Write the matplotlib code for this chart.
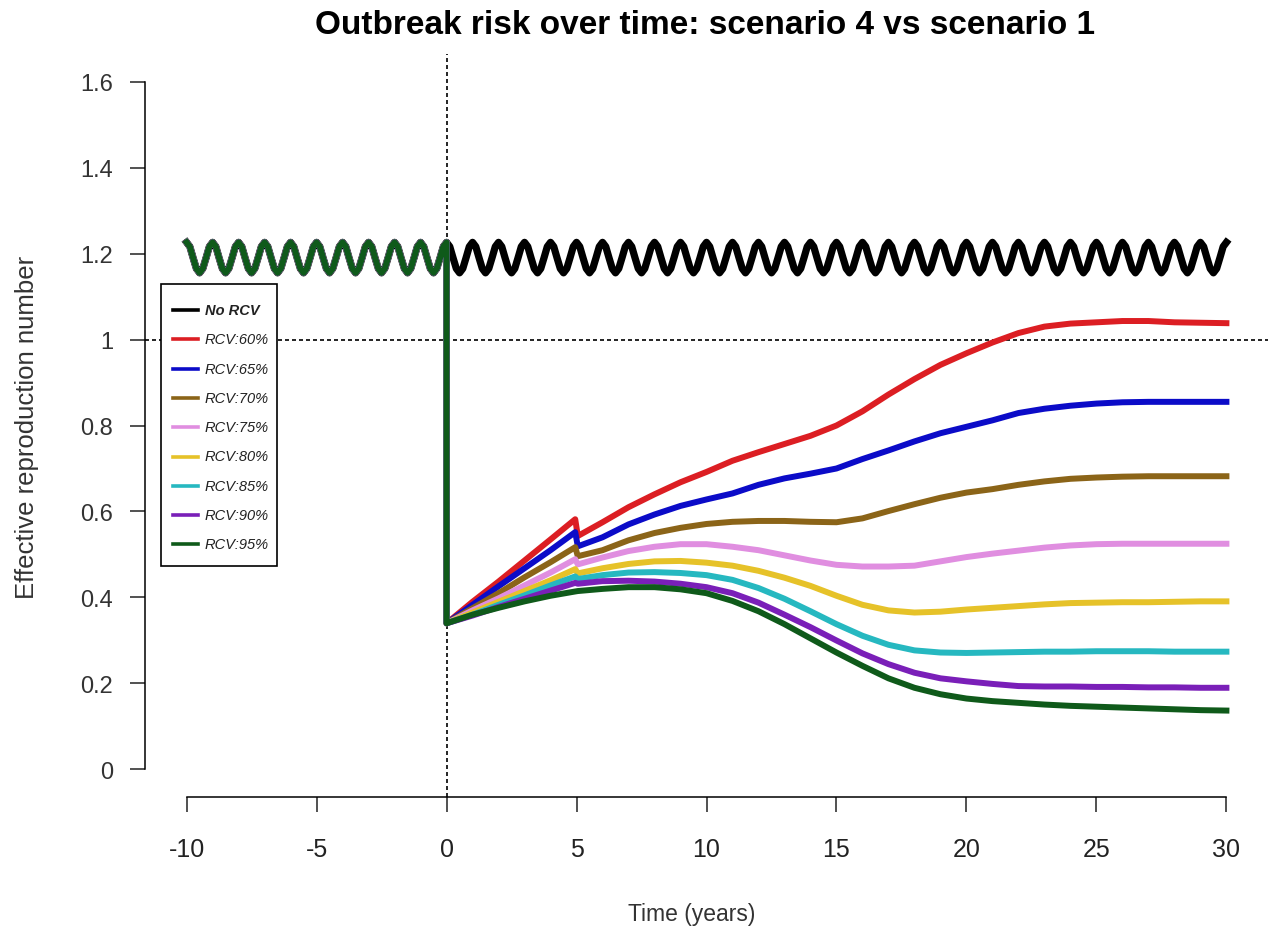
import numpy as np
import matplotlib.pyplot as plt
from matplotlib.lines import Line2D
from matplotlib.patches import Rectangle

plt.rcParams['font.family'] = ['Liberation Sans', 'DejaVu Sans']
plt.rcParams['axes.unicode_minus'] = False

# seasonal cycle of R without vaccination, eight points per year (peak first)
season_cycle = [1.226, 1.216, 1.19, 1.165, 1.155, 1.165, 1.19, 1.216]
season_step = 0.125
season_start = -10
season_end = 30

# time points after RCV introduction (years)
t_rcv = [0, 1, 2, 3, 4, 4.95, 5.05, 6, 7, 8, 9, 10, 11, 12, 13, 14, 15, 16,
         17, 18, 19, 20, 21, 22, 23, 24, 25, 26, 27, 28, 29, 30]

rcv60 = [0.34, 0.39, 0.437, 0.486, 0.535, 0.582, 0.543, 0.575, 0.61, 0.64,
         0.668, 0.692, 0.718, 0.738, 0.757, 0.776, 0.80, 0.833, 0.872, 0.908,
         0.941, 0.968, 0.993, 1.015, 1.03, 1.037, 1.04, 1.043, 1.043, 1.04,
         1.039, 1.038]
rcv65 = [0.34, 0.383, 0.426, 0.468, 0.51, 0.552, 0.519, 0.54, 0.57, 0.593,
         0.613, 0.628, 0.642, 0.662, 0.677, 0.688, 0.70, 0.722, 0.742, 0.763,
         0.782, 0.797, 0.812, 0.829, 0.839, 0.846, 0.851, 0.854, 0.855, 0.855,
         0.855, 0.855]
rcv70 = [0.34, 0.375, 0.41, 0.447, 0.482, 0.517, 0.496, 0.51, 0.533, 0.55,
         0.562, 0.571, 0.576, 0.578, 0.578, 0.576, 0.575, 0.584, 0.601, 0.617,
         0.632, 0.644, 0.652, 0.662, 0.67, 0.676, 0.679, 0.681, 0.682, 0.682,
         0.682, 0.682]
rcv75 = [0.34, 0.37, 0.398, 0.428, 0.458, 0.489, 0.477, 0.493, 0.508, 0.518,
         0.524, 0.524, 0.518, 0.51, 0.498, 0.486, 0.476, 0.472, 0.472, 0.474,
         0.484, 0.494, 0.502, 0.509, 0.516, 0.521, 0.524, 0.525, 0.525, 0.525,
         0.525, 0.525]
rcv80 = [0.34, 0.365, 0.39, 0.415, 0.44, 0.466, 0.456, 0.468, 0.478, 0.484,
         0.485, 0.481, 0.474, 0.462, 0.446, 0.427, 0.404, 0.383, 0.37, 0.365,
         0.367, 0.372, 0.376, 0.38, 0.384, 0.387, 0.388, 0.389, 0.389, 0.39,
         0.391, 0.391]
rcv85 = [0.34, 0.36, 0.383, 0.405, 0.428, 0.449, 0.443, 0.452, 0.458, 0.459,
         0.457, 0.452, 0.441, 0.422, 0.397, 0.368, 0.338, 0.311, 0.29, 0.277,
         0.272, 0.271, 0.272, 0.273, 0.274, 0.274, 0.275, 0.275, 0.275, 0.274,
         0.274, 0.274]
rcv90 = [0.34, 0.358, 0.378, 0.397, 0.416, 0.434, 0.432, 0.438, 0.439, 0.437,
         0.432, 0.424, 0.41, 0.388, 0.36, 0.331, 0.30, 0.27, 0.245, 0.225,
         0.212, 0.205, 0.199, 0.194, 0.193, 0.193, 0.192, 0.192, 0.191, 0.191,
         0.19, 0.19]
rcv95 = [0.34, 0.36, 0.376, 0.391, 0.404, 0.414, 0.415, 0.42, 0.424, 0.424,
         0.419, 0.41, 0.392, 0.368, 0.338, 0.305, 0.272, 0.241, 0.212, 0.19,
         0.175, 0.165, 0.159, 0.155, 0.151, 0.148, 0.146, 0.144, 0.142, 0.14,
         0.138, 0.137]

labels = ['No RCV', 'RCV:60%', 'RCV:65%', 'RCV:70%', 'RCV:75%', 'RCV:80%',
          'RCV:85%', 'RCV:90%', 'RCV:95%']
colors = ['black', '#dc1e23', '#0b0bc8', '#8b6418', '#e08ee0', '#e6c229',
          '#26b8c0', '#7a1fb8', '#0f5a1a']
rcv_series = [rcv60, rcv65, rcv70, rcv75, rcv80, rcv85, rcv90, rcv95]

# seasonal baseline over the whole period
season_t = np.arange(season_start, season_end + 1e-9, season_step)
season_r = np.resize(season_cycle, len(season_t))
pre = season_t <= 0

W, H = 1274, 937
fig = plt.figure(figsize=(W / 100, H / 100), dpi=100)
ax = fig.add_axes([145 / W, 1 - 798 / H, 1123 / W, 743 / H])

ax.plot(season_t, season_r, color=colors[0], lw=5.2, solid_joinstyle='round')
for vals, c in zip(rcv_series, colors[1:]):
    x = np.concatenate([season_t[pre], t_rcv])
    y = np.concatenate([season_r[pre], vals])
    ax.plot(x, y, color=c, lw=4.3, solid_joinstyle='round')

# threshold R = 1 and start of vaccination
ax.axhline(1, color='black', lw=1.2, ls=(0, (2.4, 1.8)), zorder=0.5)
ax.axvline(0, color='black', lw=1.2, ls=(0, (2.4, 1.8)), zorder=0.5)

ax.set_xlim(-11.6, 31.6)
ax.set_ylim(-0.064, 1.664)
for s in ['top', 'right']:
    ax.spines[s].set_visible(False)
ax.spines['left'].set_bounds(0, 1.6)
ax.spines['bottom'].set_bounds(-10, 30)
for s in ['left', 'bottom']:
    ax.spines[s].set_linewidth(1.1)

ax.set_xticks(range(-10, 31, 5))
ax.set_yticks([0, 0.2, 0.4, 0.6, 0.8, 1.0, 1.2, 1.4, 1.6])
ax.set_yticklabels(['0', '0.2', '0.4', '0.6', '0.8', '1', '1.2', '1.4', '1.6'])
ax.tick_params(axis='both', direction='out', length=11, width=1.1, colors='#222222')
ax.tick_params(axis='y', labelsize=17, pad=12, labelcolor='#333333')
ax.tick_params(axis='x', labelsize=18, pad=18, labelcolor='#222222')

fig.text(705 / W, 1 - 26 / H, 'Outbreak risk over time: scenario 4 vs scenario 1',
         ha='center', va='center', fontsize=24, fontweight='bold')
fig.text(27 / W, 1 - 427 / H, 'Effective reproduction number',
         ha='center', va='center', rotation=90, fontsize=18.5, color='#333333')
fig.text(692 / W, 1 - 915 / H, 'Time (years)',
         ha='center', va='center', fontsize=16.5, color='#333333')

# legend box drawn by hand: frame, short line keys and italic labels
fig.patches.append(Rectangle((161 / W, 1 - 567 / H), 116 / W, 282 / H,
                             transform=fig.transFigure, facecolor='white',
                             edgecolor='black', lw=1.2, zorder=5))
for i, (lab, c) in enumerate(zip(labels, colors)):
    yk = 1 - (311 + 29.3 * i) / H
    fig.add_artist(Line2D([173 / W, 198 / W], [yk, yk], color=c, lw=2.6,
                          transform=fig.transFigure, zorder=6))
    fig.text(205 / W, yk, lab, ha='left', va='center', fontsize=10.5,
             style='italic', fontweight='bold' if i == 0 else 'normal',
             color='#222222', zorder=6)

fig.savefig('out.png', dpi=100)
